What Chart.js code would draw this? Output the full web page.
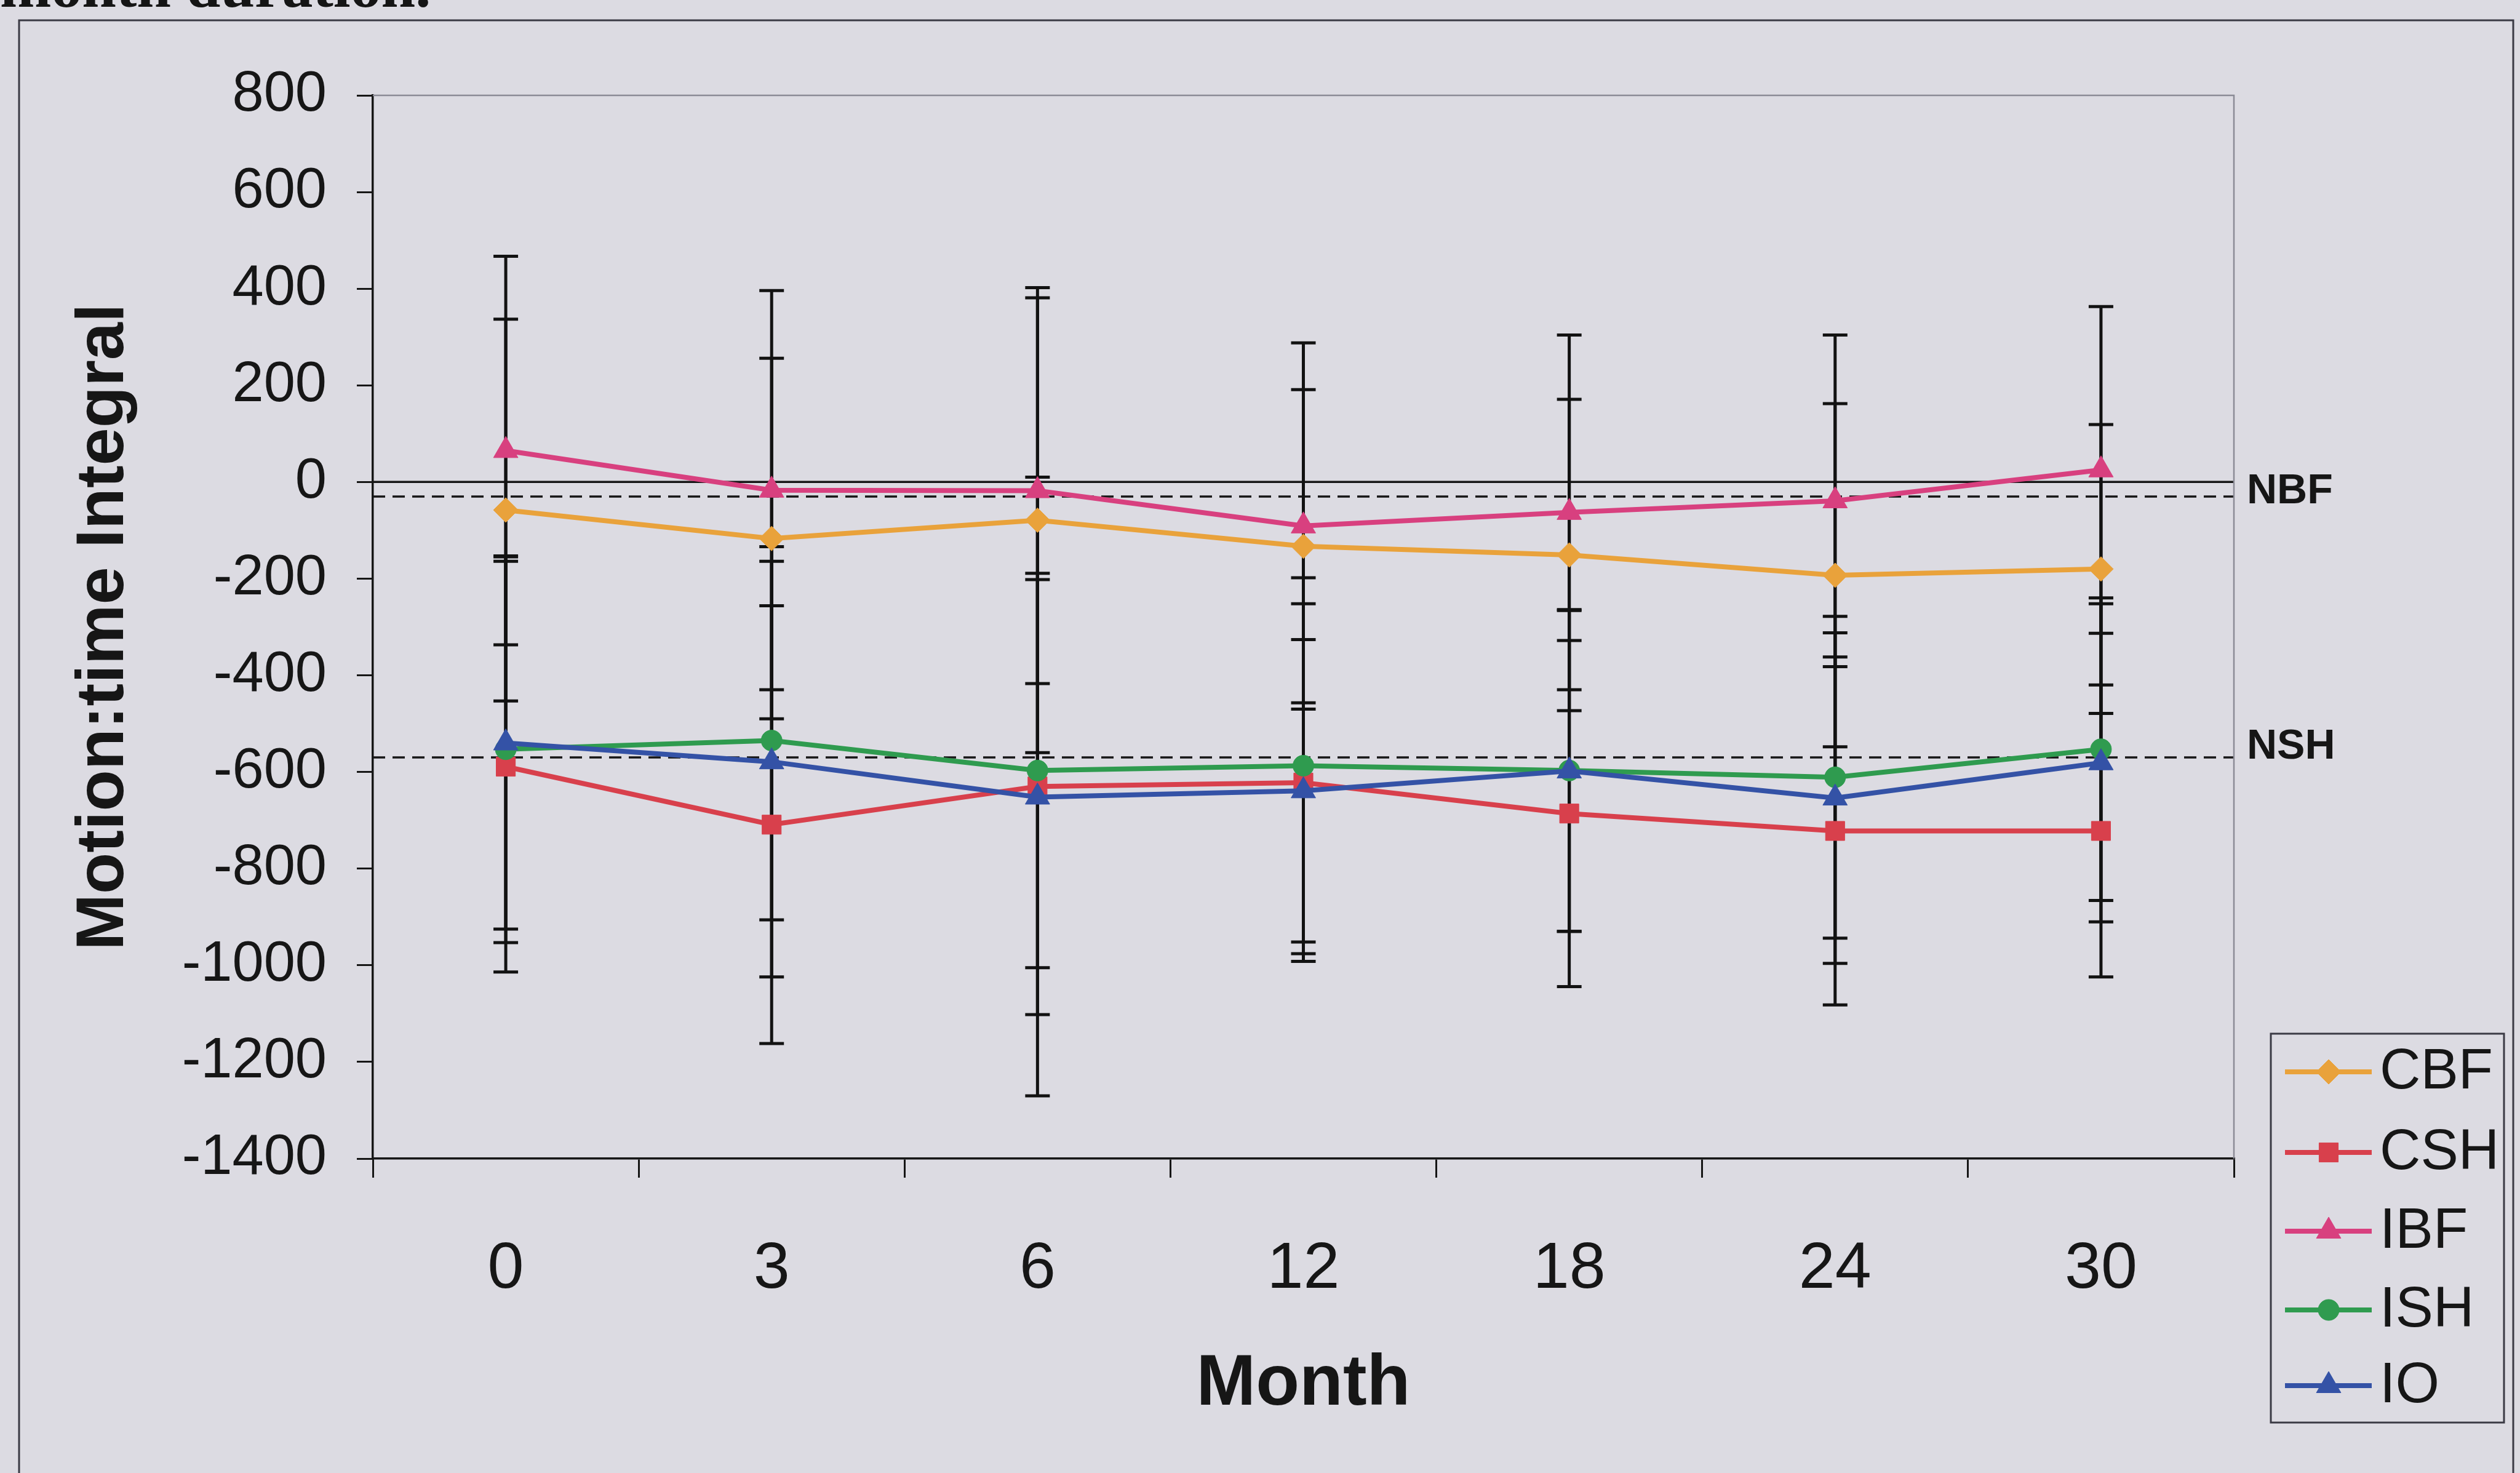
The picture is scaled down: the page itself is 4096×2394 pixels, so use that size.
<!DOCTYPE html>
<html>
<head>
<meta charset="utf-8">
<script src="https://cdn.jsdelivr.net/npm/chart.js@4.4.1/dist/chart.umd.min.js"></script>
<style>
  html, body { margin: 0; padding: 0; background: #dcdbe2; overflow: hidden; }
  canvas { display: block; }
</style>
</head>
<body>
<canvas id="chart" width="4096" height="2394"></canvas>
<script>
// Follow-up months
const months = ['0', '3', '6', '12', '18', '24', '30'];

// Group names
const seriesNames = ['CBF', 'CSH', 'IBF', 'ISH', 'IO'];

// Mean motion:time integral per group
const cbfMean = [-58, -117, -79, -133, -151, -193, -180];
const cshMean = [-589, -709, -630, -622, -686, -722, -722];
const ibfMean = [65, -17, -18, -91, -63, -39, 25];
const ishMean = [-553, -535, -597, -587, -597, -611, -553];
const ioMean  = [-540, -579, -652, -639, -598, -654, -581];

// Standard deviations (symmetric error bars)
const cbfSd = [395, 373, 481, 324, 322, 355, 299];
const cshSd = [425, 453, 640, 370, 358, 360, 302];
const ibfSd = [402, 413, 399, 379, 367, 343, 338];
const ishSd = [400, 371, 408, 389, 333, 333, 313];
const ioSd  = [385, 445, 450, 313, 332, 342, 329];

// Normal reference levels
const referenceLabels = ['NBF', 'NSH'];
const referenceValues = [-30, -570];
const zeroLine = 0;

// Value axis ticks
const yMin = -1400;
const yMax = 800;
const yStep = 200;

const captionText = 'month duration.';

// ---- styling ----
const BG = '#dcdbe2';
const INK = '#161616';
const SANS = "'Liberation Sans', Arial, Helvetica, sans-serif";
const SERIF = "'Liberation Serif', 'Times New Roman', serif";

const seriesColors = ['#E9A23B', '#D8404C', '#D8407F', '#2F9B4F', '#3452A6'];
const seriesStyles = ['rectRot', 'rect', 'triangle', 'circle', 'triangle'];
const seriesRadius = [20, 22, 23, 17, 23];
const meanSets = [cbfMean, cshMean, ibfMean, ishMean, ioMean];
const sdSets = [cbfSd, cshSd, ibfSd, ishSd, ioSd];

Chart.defaults.font.family = SANS;
Chart.defaults.color = INK;

const datasets = seriesNames.map((name, i) => ({
  label: name,
  data: meanSets[i],
  borderColor: seriesColors[i],
  backgroundColor: seriesColors[i],
  pointBackgroundColor: seriesColors[i],
  pointBorderColor: seriesColors[i],
  pointStyle: seriesStyles[i],
  pointRadius: seriesRadius[i],
  pointBorderWidth: 1,
  borderWidth: 8,
  tension: 0,
  fill: false,
  order: seriesNames.length - i
}));

// Page background, outer frame and the running text above the figure
const pagePlugin = {
  id: 'page',
  beforeDraw(chart) {
    const ctx = chart.ctx;
    ctx.save();
    ctx.fillStyle = BG;
    ctx.fillRect(0, 0, chart.width, chart.height);
    ctx.strokeStyle = '#3a3a44';
    ctx.lineWidth = 3;
    ctx.beginPath();
    ctx.moveTo(31, chart.height + 10);
    ctx.lineTo(31, 33);
    ctx.lineTo(4085, 33);
    ctx.lineTo(4085, chart.height + 10);
    ctx.stroke();
    ctx.fillStyle = '#151515';
    ctx.font = 'bold 100px ' + SERIF;
    ctx.textAlign = 'left';
    ctx.textBaseline = 'alphabetic';
    ctx.fillText(captionText, 0, 11);
    ctx.restore();
  }
};

// Reference lines and standard-deviation bars, drawn beneath the series
const underlayPlugin = {
  id: 'underlay',
  beforeDatasetsDraw(chart) {
    const ctx = chart.ctx;
    const area = chart.chartArea;
    const y = chart.scales.y;
    ctx.save();
    ctx.strokeStyle = INK;
    ctx.lineWidth = 3.5;
    // zero line
    const py = y.getPixelForValue(zeroLine);
    ctx.setLineDash([]);
    ctx.beginPath();
    ctx.moveTo(area.left, py);
    ctx.lineTo(area.right, py);
    ctx.stroke();
    // dashed normal levels
    ctx.setLineDash([20, 12]);
    referenceValues.forEach(v => {
      const ry = y.getPixelForValue(v);
      ctx.beginPath();
      ctx.moveTo(area.left, ry);
      ctx.lineTo(area.right, ry);
      ctx.stroke();
    });
    ctx.setLineDash([]);

    // error bars
    ctx.strokeStyle = '#121212';
    chart.data.datasets.forEach((ds, di) => {
      const meta = chart.getDatasetMeta(di);
      const sds = sdSets[di];
      meta.data.forEach((pt, i) => {
        const m = ds.data[i];
        const top = y.getPixelForValue(m + sds[i]);
        const bot = y.getPixelForValue(m - sds[i]);
        ctx.lineWidth = 5;
        ctx.beginPath();
        ctx.moveTo(pt.x, top);
        ctx.lineTo(pt.x, bot);
        ctx.stroke();
        ctx.lineWidth = 5;
        ctx.beginPath();
        ctx.moveTo(pt.x - 20, top);
        ctx.lineTo(pt.x + 20, top);
        ctx.moveTo(pt.x - 20, bot);
        ctx.lineTo(pt.x + 20, bot);
        ctx.stroke();
      });
    });
    ctx.restore();
  }
};

// Plot frame, level labels and the boxed legend
const overlayPlugin = {
  id: 'overlay',
  afterDraw(chart) {
    const ctx = chart.ctx;
    const area = chart.chartArea;
    const y = chart.scales.y;
    ctx.save();
    // grey top/right edges of the plot area
    ctx.strokeStyle = '#8b8b96';
    ctx.lineWidth = 2.5;
    ctx.beginPath();
    ctx.moveTo(area.left, area.top);
    ctx.lineTo(area.right, area.top);
    ctx.lineTo(area.right, area.bottom);
    ctx.stroke();

    // level labels
    ctx.fillStyle = INK;
    ctx.font = 'bold 68px ' + SANS;
    ctx.textAlign = 'left';
    ctx.textBaseline = 'middle';
    const labelLift = [8, 17];
    referenceLabels.forEach((t, i) => {
      ctx.fillText(t, area.right + 21, y.getPixelForValue(referenceValues[i]) - labelLift[i]);
    });

    // legend
    const box = { left: 3691, top: 1680, right: 4070, bottom: 2312 };
    ctx.fillStyle = BG;
    ctx.fillRect(box.left, box.top, box.right - box.left, box.bottom - box.top);
    ctx.strokeStyle = '#3a3a44';
    ctx.lineWidth = 3;
    ctx.strokeRect(box.left, box.top, box.right - box.left, box.bottom - box.top);
    const rowY = [1742, 1873, 2001, 2129, 2252];
    chart.data.datasets.forEach((ds, i) => {
      const ly = rowY[i];
      ctx.strokeStyle = ds.borderColor;
      ctx.lineWidth = 8;
      ctx.beginPath();
      ctx.moveTo(3714, ly);
      ctx.lineTo(3855, ly);
      ctx.stroke();
      ctx.fillStyle = ds.backgroundColor;
      ctx.strokeStyle = ds.borderColor;
      ctx.lineWidth = 1;
      Chart.helpers.drawPoint(ctx, {
        pointStyle: ds.pointStyle,
        radius: ds.pointRadius,
        rotation: 0,
        borderWidth: 1
      }, 3785, ly);
      ctx.fillStyle = INK;
      ctx.font = '92px ' + SANS;
      ctx.textAlign = 'left';
      ctx.textBaseline = 'middle';
      ctx.fillText(ds.label, 3868, ly + 2);
    });
    ctx.restore();
  }
};

new Chart(document.getElementById('chart'), {
  type: 'line',
  data: { labels: months, datasets },
  plugins: [pagePlugin, underlayPlugin, overlayPlugin],
  options: {
    responsive: false,
    devicePixelRatio: 1,
    animation: false,
    layout: { padding: { left: 0, top: 155, right: 465, bottom: 0 } },
    plugins: {
      legend: { display: false },
      tooltip: { enabled: false },
      title: { display: false }
    },
    scales: {
      x: {
        type: 'category',
        offset: true,
        grid: {
          display: true,
          offset: true,
          drawOnChartArea: false,
          drawTicks: true,
          tickLength: 31,
          color: INK,
          lineWidth: 3
        },
        border: { display: true, color: INK, width: 3.5 },
        ticks: {
          font: { size: 106 },
          color: INK,
          padding: 86,
          maxRotation: 0,
          autoSkip: false
        },
        title: {
          display: true,
          text: 'Month',
          font: { size: 116, weight: 'bold' },
          color: INK,
          padding: { top: 0, bottom: 73 }
        },
        afterFit(scale) { scale.height = 511; }
      },
      y: {
        min: yMin,
        max: yMax,
        grid: {
          display: true,
          drawOnChartArea: false,
          drawTicks: true,
          tickLength: 26,
          color: INK,
          lineWidth: 3
        },
        border: { display: true, color: INK, width: 3.5 },
        ticks: {
          stepSize: yStep,
          font: { size: 92 },
          color: INK,
          padding: 49,
          callback: value => String(value)
        },
        title: {
          display: true,
          text: 'Motion:time Integral',
          font: { size: 110, weight: 'bold' },
          color: INK,
          padding: { top: 104, bottom: 0 }
        },
        afterFit(scale) { scale.width = 606; }
      }
    }
  }
});
</script>
</body>
</html>
